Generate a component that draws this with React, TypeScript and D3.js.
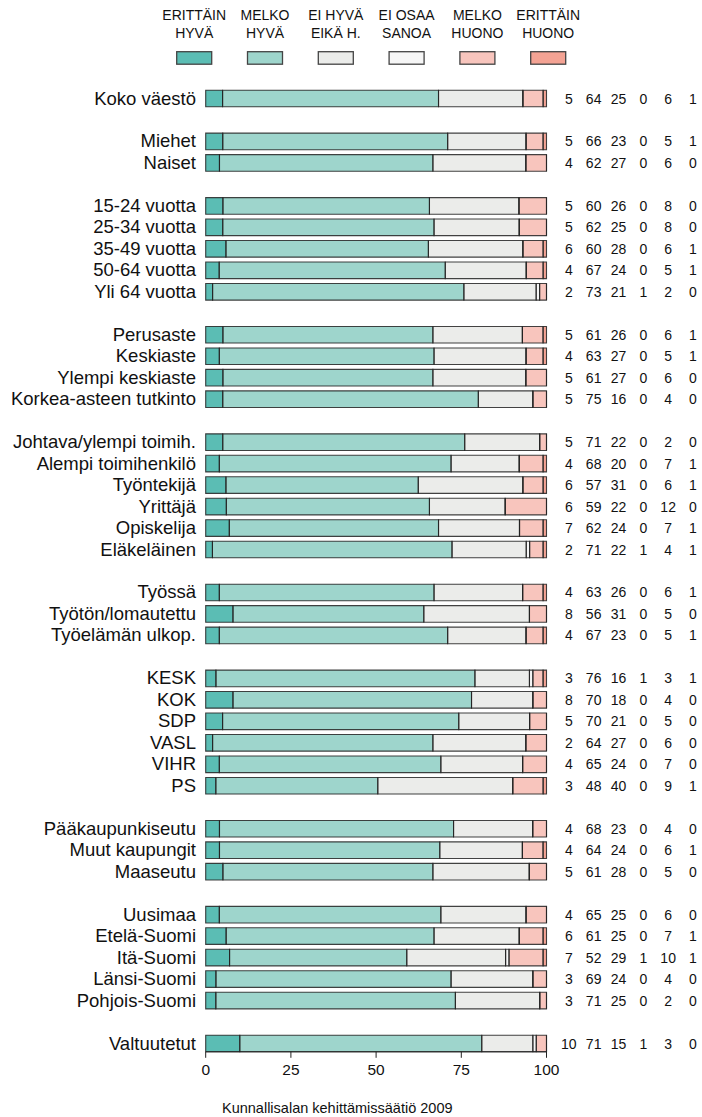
import React from "react";
import * as d3 from "d3";

const seriesNames = [
  ["ERITTÄIN", "HYVÄ"],
  ["MELKO", "HYVÄ"],
  ["EI HYVÄ", "EIKÄ H."],
  ["EI OSAA", "SANOA"],
  ["MELKO", "HUONO"],
  ["ERITTÄIN", "HUONO"],
];
const seriesColors = ["#5bbdb4", "#9ed5cc", "#ebecea", "#f6f6f6", "#f8c5bd", "#f4a394"];

// groups of categories, separated by a blank slot
const groups: string[][] = [
  ["Koko väestö"],
  ["Miehet", "Naiset"],
  ["15-24 vuotta", "25-34 vuotta", "35-49 vuotta", "50-64 vuotta", "Yli 64 vuotta"],
  ["Perusaste", "Keskiaste", "Ylempi keskiaste", "Korkea-asteen tutkinto"],
  ["Johtava/ylempi toimih.", "Alempi toimihenkilö", "Työntekijä", "Yrittäjä", "Opiskelija", "Eläkeläinen"],
  ["Työssä", "Työtön/lomautettu", "Työelämän ulkop."],
  ["KESK", "KOK", "SDP", "VASL", "VIHR", "PS"],
  ["Pääkaupunkiseutu", "Muut kaupungit", "Maaseutu"],
  ["Uusimaa", "Etelä-Suomi", "Itä-Suomi", "Länsi-Suomi", "Pohjois-Suomi"],
  ["Valtuutetut"],
];

const values: number[][] = [
  [5, 64, 25, 0, 6, 1],
  [5, 66, 23, 0, 5, 1],
  [4, 62, 27, 0, 6, 0],
  [5, 60, 26, 0, 8, 0],
  [5, 62, 25, 0, 8, 0],
  [6, 60, 28, 0, 6, 1],
  [4, 67, 24, 0, 5, 1],
  [2, 73, 21, 1, 2, 0],
  [5, 61, 26, 0, 6, 1],
  [4, 63, 27, 0, 5, 1],
  [5, 61, 27, 0, 6, 0],
  [5, 75, 16, 0, 4, 0],
  [5, 71, 22, 0, 2, 0],
  [4, 68, 20, 0, 7, 1],
  [6, 57, 31, 0, 6, 1],
  [6, 59, 22, 0, 12, 0],
  [7, 62, 24, 0, 7, 1],
  [2, 71, 22, 1, 4, 1],
  [4, 63, 26, 0, 6, 1],
  [8, 56, 31, 0, 5, 0],
  [4, 67, 23, 0, 5, 1],
  [3, 76, 16, 1, 3, 1],
  [8, 70, 18, 0, 4, 0],
  [5, 70, 21, 0, 5, 0],
  [2, 64, 27, 0, 6, 0],
  [4, 65, 24, 0, 7, 0],
  [3, 48, 40, 0, 9, 1],
  [4, 68, 23, 0, 4, 0],
  [4, 64, 24, 0, 6, 1],
  [5, 61, 28, 0, 5, 0],
  [4, 65, 25, 0, 6, 0],
  [6, 61, 25, 0, 7, 1],
  [7, 52, 29, 1, 10, 1],
  [3, 69, 24, 0, 4, 0],
  [3, 71, 25, 0, 2, 0],
  [10, 71, 15, 1, 3, 0],
];

const xTicks = [0, 25, 50, 75, 100];
const footer = "Kunnallisalan kehittämissäätiö 2009";

const W = 702;
const H = 1117;
const FONT = "'Liberation Sans', Arial, Helvetica, sans-serif";

export default function App() {
  // build row slots
  const rows: { label: string; slot: number; vals: number[] }[] = [];
  let slot = 0;
  let k = 0;
  groups.forEach((g, gi) => {
    if (gi > 0) slot += 1;
    g.forEach((label) => {
      rows.push({ label, slot, vals: values[k] });
      k += 1;
      slot += 1;
    });
  });
  const lastSlot = slot - 1;

  const x = d3.scaleLinear().domain([0, 100]).range([205.7, 546.5]);
  const y = d3.scaleLinear().domain([0, lastSlot]).range([98.5, 1043.5]);
  const barH = 16.6;
  const colX = d3.scaleLinear().domain([0, 5]).range([568.8, 693]);
  const legX = d3.scaleLinear().domain([0, 5]).range([194.2, 548.2]);

  const axisY = y(lastSlot) + barH / 2;

  return (
    <svg
      width={W}
      height={H}
      style={{ position: "absolute", left: 0, top: 0, background: "#fff" }}
      fontFamily={FONT}
    >
      <rect x={0} y={0} width={W} height={H} fill="#fff" />
      {/* legend */}
      {seriesNames.map((nm, i) => (
        <g key={i}>
          <text x={legX(i)} y={20} textAnchor="middle" fontSize={14} fill="#111">
            {nm[0]}
          </text>
          <text x={legX(i)} y={37.7} textAnchor="middle" fontSize={14} fill="#111">
            {nm[1]}
          </text>
          <rect
            x={legX(i) - 17.5}
            y={51.7}
            width={35}
            height={12.5}
            fill={seriesColors[i]}
            stroke="#444"
            strokeWidth={1.3}
          />
        </g>
      ))}
      {/* rows */}
      {rows.map((r, ri) => {
        const total = d3.sum(r.vals);
        const norm = r.vals.map((v) => (v / total) * 100);
        const cum = [0, ...d3.cumsum(norm)];
        const yc = y(r.slot);
        const y0 = yc - barH / 2;
        return (
          <g key={ri}>
            <text x={196} y={yc + 6} textAnchor="end" fontSize={18.5} fill="#111">
              {r.label}
            </text>
            {norm.map((v, i) => (
              <rect
                key={"f" + i}
                x={x(cum[i])}
                y={y0}
                width={Math.max(0, x(cum[i + 1]) - x(cum[i]))}
                height={barH}
                fill={seriesColors[i]}
              />
            ))}
            {norm.map((v, i) => {
              const a = x(cum[i]);
              const b = x(cum[i + 1]);
              return (
                <path
                  key={"s" + i}
                  d={`M${a},${y0}H${b}V${y0 + barH}H${a}Z`}
                  fill="none"
                  stroke="#222"
                  strokeWidth={1.1}
                  strokeOpacity={0.85}
                />
              );
            })}
            {r.vals.map((v, i) => (
              <text
                key={"n" + i}
                x={colX(i)}
                y={yc + 5}
                textAnchor="middle"
                fontSize={14}
                fill="#111"
              >
                {v}
              </text>
            ))}
          </g>
        );
      })}
      {/* axis */}
      <g transform={`translate(0,${axisY})`}>
        <line x1={x(0)} x2={x(100)} y1={0} y2={0} stroke="#222" strokeWidth={1} />
        {xTicks.map((t) => (
          <g key={t} transform={`translate(${x(t)},0)`}>
            <line y1={0} y2={6} stroke="#222" strokeWidth={1} />
            <text y={23} textAnchor="middle" fontSize={15.5} fill="#111">
              {t}
            </text>
          </g>
        ))}
      </g>
      <text x={222} y={1113} fontSize={14.5} fill="#111">
        {footer}
      </text>
    </svg>
  );
}
